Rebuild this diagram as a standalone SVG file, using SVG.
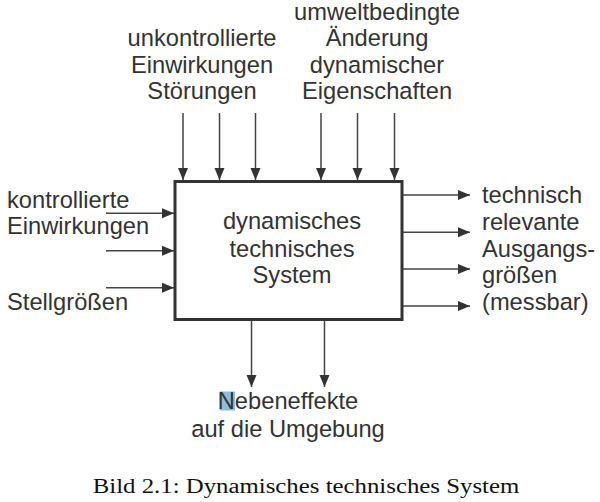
<svg xmlns="http://www.w3.org/2000/svg" width="600" height="502" viewBox="0 0 600 502">
<style>
.t{font-family:"Liberation Sans",Arial,sans-serif;font-size:23.7px;fill:#333}
.c{text-anchor:middle}
.a{stroke:#444;stroke-width:1.5;fill:none;marker-end:url(#ah)}
.cap{font-family:"Liberation Serif","Times New Roman",serif;font-size:20px;fill:#111}
</style>
<defs>
<marker id="ah" markerUnits="userSpaceOnUse" markerWidth="13" markerHeight="11" refX="12" refY="5" orient="auto">
<path d="M0,0 L12,5 L0,10 z" fill="#333"/>
</marker>
</defs>
<rect width="600" height="502" fill="#fff"/>
<g id="system">
<rect x="175" y="181.5" width="227" height="138" fill="#fff" stroke="#333" stroke-width="3"/>
<text class="t c" x="292" y="229.3">dynamisches</text>
<text class="t c" x="292" y="256.5">technisches</text>
<text class="t c" x="292" y="283.3">System</text>
</g>
<g id="disturbances">
<text class="t c" x="202" y="46">unkontrollierte</text>
<text class="t c" x="202" y="72.7">Einwirkungen</text>
<text class="t c" x="202" y="99.3">Störungen</text>
</g>
<g id="environment">
<text class="t c" x="377" y="20">umweltbedingte</text>
<text class="t c" x="377" y="46">Änderung</text>
<text class="t c" x="377" y="72.5">dynamischer</text>
<text class="t c" x="377" y="99.3">Eigenschaften</text>
</g>
<g id="controlled">
<text class="t" x="7" y="208.3">kontrollierte</text>
<text class="t" x="7" y="233.5">Einwirkungen</text>
<text class="t" x="7" y="310">Stellgrößen</text>
</g>
<g id="outputs">
<text class="t" x="482" y="203.3">technisch</text>
<text class="t" x="482" y="230">relevante</text>
<text class="t" x="482" y="256.7">Ausgangs-</text>
<text class="t" x="482" y="283.3">größen</text>
<text class="t" x="482" y="310">(messbar)</text>
</g>
<g id="side-effects">
<rect x="219.5" y="391.5" width="15.5" height="19" fill="#8fbcd8"/>
<text class="t c" x="288" y="409.3">Nebeneffekte</text>
<text class="t c" x="288" y="436.5">auf die Umgebung</text>
</g>
<g id="connectors">
<line class="a" x1="183" y1="113" x2="183" y2="180"/>
<line class="a" x1="219.5" y1="113" x2="219.5" y2="180"/>
<line class="a" x1="255.5" y1="113" x2="255.5" y2="180"/>
<line class="a" x1="321" y1="113" x2="321" y2="180"/>
<line class="a" x1="357.5" y1="113" x2="357.5" y2="180"/>
<line class="a" x1="394.5" y1="113" x2="394.5" y2="180"/>
<line class="a" x1="106" y1="213.3" x2="174" y2="213.3"/>
<line class="a" x1="106" y1="250.7" x2="174" y2="250.7"/>
<line class="a" x1="106" y1="287.7" x2="174" y2="287.7"/>
<line class="a" x1="403" y1="195" x2="470" y2="195"/>
<line class="a" x1="403" y1="232.3" x2="470" y2="232.3"/>
<line class="a" x1="403" y1="269" x2="470" y2="269"/>
<line class="a" x1="403" y1="306" x2="470" y2="306"/>
<line class="a" x1="251.5" y1="321" x2="251.5" y2="387"/>
<line class="a" x1="324.5" y1="321" x2="324.5" y2="387"/>
</g>
<text class="cap" x="92.7" y="493.3" textLength="426.6" lengthAdjust="spacingAndGlyphs">Bild 2.1: Dynamisches technisches System</text>
</svg>
